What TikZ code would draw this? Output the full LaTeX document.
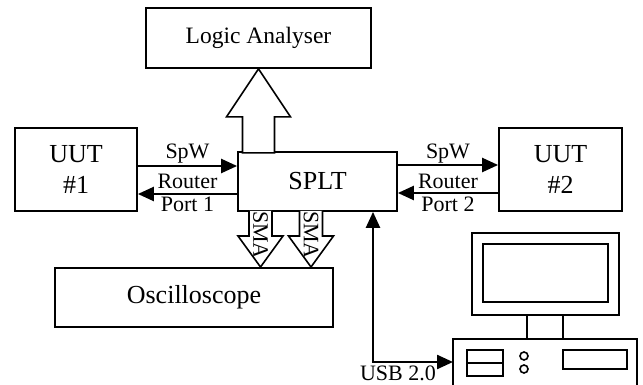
\documentclass[tikz,border=0pt]{standalone}
\usepackage{fontspec}
\setmainfont{Liberation Serif}
\usetikzlibrary{arrows.meta}
\begin{document}
\begin{tikzpicture}[x=1pt,y=-1pt,
  box/.style={draw, line width=1.8pt, inner sep=0pt, align=center},
  bigtext/.style={font=\fontsize{26}{31}\selectfont},
  lbl/.style={font=\fontsize{22}{24}\selectfont, inner sep=0pt},
  conn/.style={line width=2.4pt, -{Triangle[length=16pt,width=14pt]}},
  fat/.style={draw, fill=white, line width=1.6pt, line join=miter},
  hw/.style={draw, line width=1.6pt}]
\useasboundingbox (0,0) rectangle (643,385);

% main units
\node[box, minimum width=225pt, minimum height=60pt,
      font=\fontsize{23.5}{28}\selectfont] (la) at (258.5,38) {Logic Analyser};
\node[box, bigtext, minimum width=122pt, minimum height=83pt] (uut1) at (76,169.5) {UUT\\\#1};
\node[box, bigtext, minimum width=159pt, minimum height=59pt] (splt) at (317.5,181.5) {SPLT};
\node[box, bigtext, minimum width=123pt, minimum height=83pt] (uut2) at (560.5,169.5) {UUT\\\#2};
\node[box, bigtext, minimum width=278pt, minimum height=59pt] (osc) at (194,297.5) {Oscilloscope};

% SpaceWire links
\coordinate (ya) at (0,166);
\coordinate (yb) at (0,194);
\coordinate (yc) at (0,165);
\coordinate (yd) at (0,193);
\draw[conn] (uut1.east |- ya) -- (splt.west |- ya);
\draw[conn] (splt.west |- yb) -- (uut1.east |- yb);
\draw[conn] (splt.east |- yc) -- (uut2.west |- yc);
\draw[conn] (uut2.west |- yd) -- (splt.east |- yd);
\node[lbl] (l1a) at (187.5,154) {SpW};
\node[lbl] (l1b) at (187.5,181) {Router};
\node[lbl] (l1c) at (187.5,204) {Port 1};
\node[lbl] (l2a) at (448,154) {SpW};
\node[lbl] (l2b) at (448,181) {Router};
\node[lbl] (l2c) at (448,204) {Port 2};

% bus to the logic analyser
\draw[fat] (la.south) -- ++(-32,48) -- ++(16,0) -- ++(0,36) -- ++(32,0)
  -- ++(0,-36) -- ++(16,0) -- cycle;

% SMA probes to the oscilloscope
\foreach \cx/\nm in {260.5/sa, 311/sb}{
  \coordinate (\nm) at (\cx,211);
  \draw[fat] (\nm) ++(-11.5,0) -- ++(0,25) -- ++(-11,0) -- ++(22.5,31)
    -- ++(22.5,-31) -- ++(-11,0) -- ++(0,-25);
  \node[lbl, rotate=-90] (\nm t) at (\cx,235) {SMA};
}

% host computer
\draw[hw] (453,390) |- (637,339) -- (637,390);
\draw[hw] (472,233) rectangle (619,315);
\draw[hw] (483,244) rectangle (608,302);
\draw[hw] (527,315) rectangle (563,339);
\draw[hw] (467,350) rectangle (503,376);
\draw[hw] (467,363) -- (503,363);
\draw[hw] (524,356) circle (4);
\draw[hw] (524,369) circle (4);
\draw[hw] (563,350) rectangle (627,369);

% USB link
\coordinate (pcport) at (453,362);
\coordinate (usbx) at (373,0);
\draw[conn, {Triangle[length=16pt,width=14pt]}-{Triangle[length=16pt,width=14pt]}]
  (splt.south -| usbx) |- (pcport);
\node[lbl] (usb) at (398,373) {USB 2.0};
\end{tikzpicture}
\end{document}
